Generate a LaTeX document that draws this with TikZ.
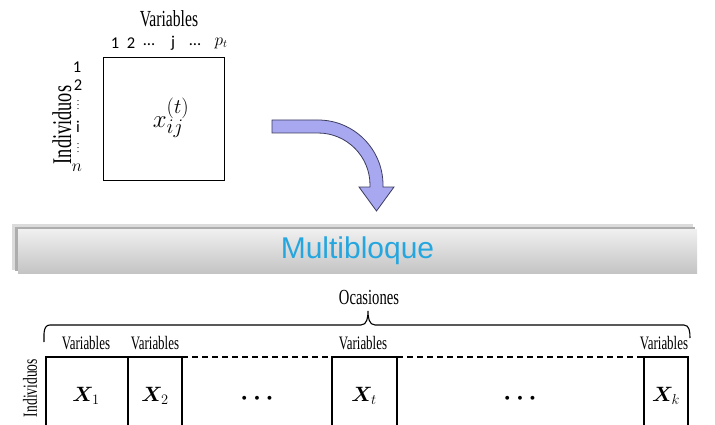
\documentclass[tikz,border=0pt]{standalone}
\usepackage{fontspec}
\usepackage{bm}
\setmainfont{Liberation Serif}
\newfontfamily\condfont[FakeStretch=0.68]{Liberation Serif}
\newfontfamily\califont{Carlito}
\newfontfamily\arialfont{Liberation Sans}
\definecolor{arrowfill}{RGB}{168,168,240}
\definecolor{arrowline}{RGB}{60,60,95}
\definecolor{bannertext}{RGB}{38,166,222}
\begin{document}
\begin{tikzpicture}[x=1pt,y=1pt,
  every node/.style={inner sep=0pt, outer sep=0pt},
  condtext/.style={font=\condfont\fontsize{#1}{#1}\selectfont},
  numtext/.style={font=\califont\fontsize{16.5}{16.5}\selectfont},
  mathbig/.style={font=\fontsize{#1}{#1}\selectfont},
  blockline/.style={line width=1.1pt, black},
  dashline/.style={line width=1.1pt, black, dash pattern=on 6pt off 4pt},
]
\useasboundingbox (0,0) rectangle (715,-425);

% ---- top matrix ----
\node[condtext=23] (varTop) at (169,-19) {Variables};
\node[numtext] (c1) at (115,-43) {1};
\node[numtext] (c2) at (131,-43) {2};
\node[numtext] (c3) at (149,-45) {…};
\node[numtext] (c4) at (173,-43) {j};
\node[numtext] (c5) at (195,-45) {…};
\node[mathbig=16] (c6) at (221,-43) {$p_t$};

\node[numtext] (r1) at (77,-67) {1};
\node[numtext] (r2) at (78,-85) {2};
\node[mathbig=10] (r3) at (78,-102) {$\vdots$};
\node[numtext] (r4) at (78,-127) {i};
\node[mathbig=10] (r5) at (78,-145) {$\vdots$};
\node[mathbig=16] (r6) at (77,-168) {$n$};
\node[condtext=27, rotate=90] (indTop) at (62,-125) {Individuos};

\node[draw, line width=0.9pt, minimum width=121pt, minimum height=123pt] (mat) at (163.5,-118.5) {};
\node[mathbig=32] (xij) at (171,-118) {$x_{ij}^{(t)}$};

% ---- curved arrow ----
\filldraw[fill=arrowfill, draw=arrowline, line width=0.8pt]
  (272,-120) -- (318,-120) arc[start angle=90, end angle=0, radius=65]
  -- (383,-187) -- (394,-187) -- (376.5,-211) -- (359,-187) -- (370,-187)
  -- (370,-185) arc[start angle=0, end angle=90, radius=52]
  -- (272,-133) -- cycle;

% ---- banner ----
\fill[black!14] (12,-224) rectangle (693,-270);
\fill[black!32] (15,-227) rectangle (695,-271);
\node[minimum width=679pt, minimum height=44pt, top color=black!6, bottom color=black!23,
      font=\arialfont\fontsize{30}{30}\selectfont, text=bannertext] (banner) at (357.5,-251) {Multibloque};

% ---- bottom blocks ----
\node[condtext=21.5] (ocas) at (369,-297) {Ocasiones};
\coordinate (brL) at (44,-342);
\coordinate (brM) at (368,-311);
\coordinate (brR) at (690,-338);
\draw[line width=1.1pt] (brL) to[out=90,in=180] (50,-325) -- (361,-325)
  to[out=0,in=-90] (brM) to[out=-90,in=180] (375,-325) -- (684,-325) to[out=0,in=90] (brR);

\node[condtext=19] (v1) at (86,-343) {Variables};
\node[condtext=19] (v2) at (155,-343) {Variables};
\node[condtext=19] (v3) at (363,-343) {Variables};
\node[condtext=19] (v4) at (664,-343) {Variables};
\node[condtext=20, rotate=90] (indBot) at (30,-388) {Individuos};

\draw[blockline] (46,-425) |- (182,-357) -- (182,-425);
\draw[blockline] (128,-357) -- (128,-425);
\draw[dashline] (182,-357) -- (332,-357);
\draw[blockline] (332,-425) |- (397,-357) -- (397,-425);
\draw[dashline] (397,-357) -- (644,-357);
\draw[blockline] (644,-425) |- (688,-357) -- (688,-425);

\node[mathbig=21] (X1) at (86,-396) {$\bm{X}_1$};
\node[mathbig=21] (X2) at (155,-396) {$\bm{X}_2$};
\node[mathbig=26] (d1) at (257,-399) {$\bm{\cdots}$};
\node[mathbig=21] (Xt) at (364,-396) {$\bm{X}_t$};
\node[mathbig=26] (d2) at (520,-399) {$\bm{\cdots}$};
\node[mathbig=21] (Xk) at (666,-396) {$\bm{X}_k$};
\end{tikzpicture}
\end{document}
